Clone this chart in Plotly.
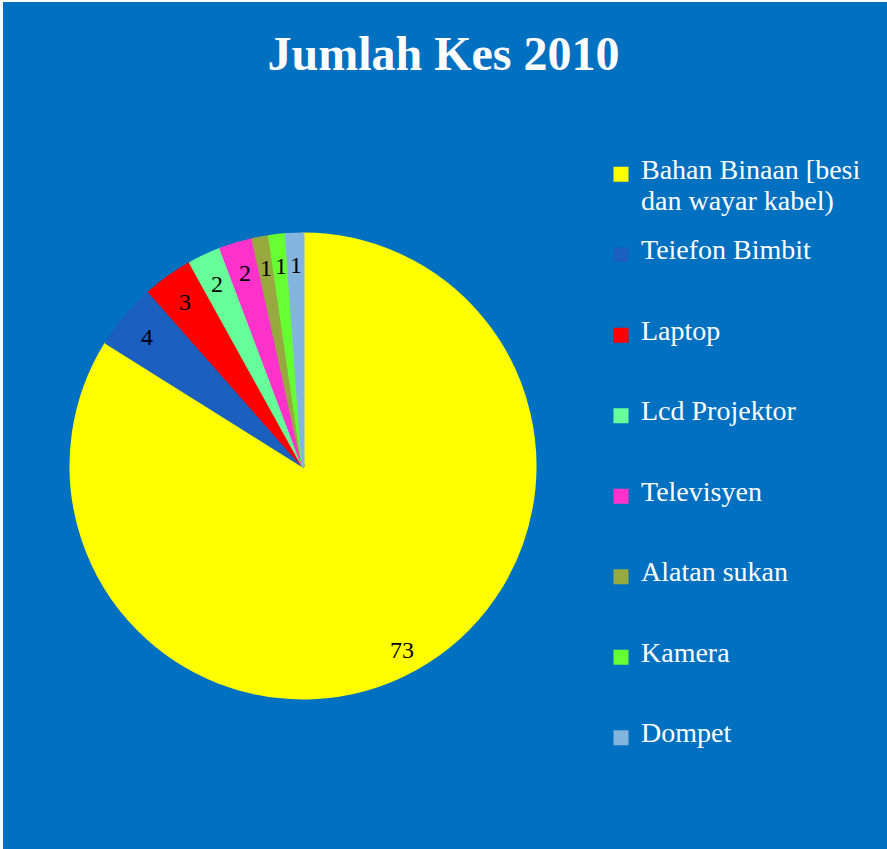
import math
import plotly.graph_objects as go

# ---- data ----
categories = [
    "Bahan Binaan [besi<br>dan wayar kabel)",
    "Teiefon Bimbit",
    "Laptop",
    "Lcd Projektor",
    "Televisyen",
    "Alatan sukan",
    "Kamera",
    "Dompet",
]
values = [73, 4, 3, 2, 2, 1, 1, 1]
slice_colors = ["#FFFF00", "#1B5FBF", "#FF0000", "#66FF99",
                "#FF33CC", "#98A940", "#66FF33", "#83B5DF"]
title_text = "Jumlah Kes 2010"

# ---- layout constants ----
W, H = 887, 849
BG = "#0070C0"
SERIF = "Liberation Serif"

# pie placement (pixel centre / radius -> domain fractions)
pcx, pcy, pr = 303, 466, 232
dom_x = [(pcx - pr) / W, (pcx + pr) / W]
dom_y = [(H - pcy - pr) / H, (H - pcy + pr) / H]

# legend: each item spans K text lines at a small base size, visible text larger
K = 5
ITEM_H = 80.5
base_size = (ITEM_H - 3) / (K * 1.3)
NB = "\u00a0"


def legend_label(cat):
    rows = []
    for part in cat.split("<br>"):
        rows.append(f'<span style="font-size:28px">{part}</span>')
        rows.append(NB)
    rows = rows[:K] + [NB] * (K - len(rows))
    return "<br>".join(rows)


labels = [legend_label(c) for c in categories]

fig = go.Figure(
    go.Pie(
        labels=labels,
        values=values,
        sort=False,
        direction="clockwise",
        rotation=0,
        marker=dict(colors=slice_colors,
                    line=dict(color=slice_colors, width=3)),
        textinfo="none",
        hoverinfo="value+percent",
        domain=dict(x=dom_x, y=dom_y),
    )
)

# value labels, positioned from the data (mid-angle of each slice)
total = sum(values)
cx = W * (dom_x[0] + dom_x[1]) / 2
cy_b = H * (dom_y[0] + dom_y[1]) / 2
r_px = min(W * (dom_x[1] - dom_x[0]), H * (dom_y[1] - dom_y[0])) / 2
rho = 0.885 * r_px
annotations = []
cum = 0
for v in values:
    mid = (cum + v / 2) / total * 2 * math.pi
    cum += v
    ax = (cx + rho * math.sin(mid)) / W
    ay = (cy_b + rho * math.cos(mid)) / H
    annotations.append(dict(
        x=ax, y=ay, xref="paper", yref="paper",
        text=str(v), showarrow=False,
        xanchor="center", yanchor="middle", yshift=-4,
        font=dict(family=SERIF, size=24, color="black"),
    ))

fig.update_layout(
    width=W, height=H,
    margin=dict(l=0, r=0, t=0, b=0, autoexpand=False),
    paper_bgcolor="white",
    plot_bgcolor=BG,
    title=dict(
        text=title_text,
        x=0.5, xref="container", xanchor="center",
        y=1 - 36 / H, yref="container", yanchor="top",
        font=dict(family=SERIF, size=48, color="white", weight="bold"),
    ),
    showlegend=True,
    legend=dict(
        x=601 / W, xref="paper", xanchor="left",
        y=1 - 160 / H, yref="paper", yanchor="top",
        valign="top",
        bgcolor="rgba(0,0,0,0)",
        font=dict(family=SERIF, size=base_size, color="white"),
        tracegroupgap=0,
    ),
    annotations=annotations,
    shapes=[dict(
        type="rect", xref="paper", yref="paper",
        x0=3 / W, x1=1, y0=0, y1=1 - 2 / H,
        fillcolor=BG, line=dict(width=0), layer="below",
    )],
)

fig.write_html(
    "out.html",
    config={"displayModeBar": False},
    post_script="document.body.style.margin='0px';document.body.style.overflow='hidden';",
)
